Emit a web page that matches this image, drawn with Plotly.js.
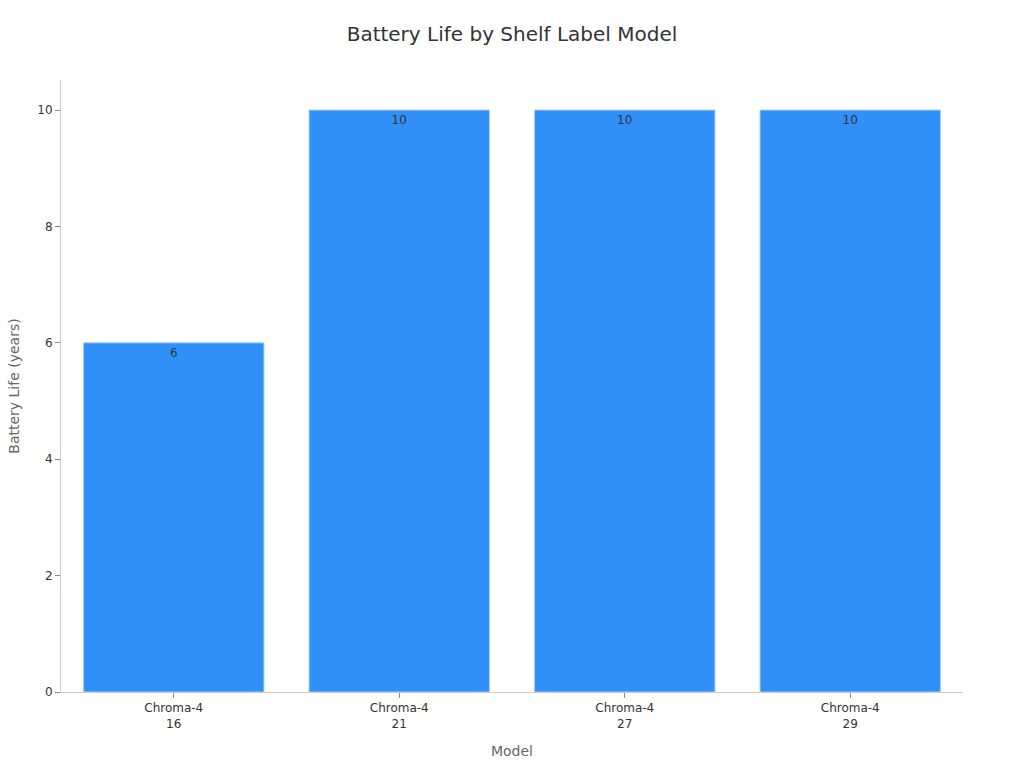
<!DOCTYPE html>
<html>
<head>
<meta charset="utf-8">
<script src="https://cdn.plot.ly/plotly-3.0.1.min.js"></script>
<style>html,body{margin:0;padding:0;background:#fff;}#chart{width:1024px;height:768px;}</style>
</head>
<body>
<div id="chart"></div>
<script>
const categories = ["Chroma-4<br>16", "Chroma-4<br>21", "Chroma-4<br>27", "Chroma-4<br>29"];
const batteryLife = [6, 10, 10, 10];
const valueLabels = ["6", "10", "10", "10"];

const trace = {
  type: "bar",
  x: categories,
  y: batteryLife,
  text: valueLabels,
  textposition: "inside",
  insidetextanchor: "end",
  textfont: {family: "DejaVu Sans", size: 12, color: "#333333"},
  marker: {color: "#3090f8", line: {color: "#a8cdf5", width: 1}},
  hoverinfo: "x+y"
};

const layout = {
  width: 1024,
  height: 768,
  margin: {l: 61, r: 61, t: 80, b: 76},
  paper_bgcolor: "#ffffff",
  plot_bgcolor: "#ffffff",
  font: {family: "DejaVu Sans", color: "#333333"},
  title: {text: "Battery Life by Shelf Label Model", font: {family: "DejaVu Sans", size: 20, color: "#333333"}, x: 0.5, xanchor: "center", y: 0.965},
  bargap: 0.2,
  showlegend: false,
  xaxis: {
    title: {text: "Model", font: {size: 14, color: "#666666"}, standoff: 16},
    showline: true, linecolor: "#cccccc", linewidth: 1,
    ticks: "outside", ticklen: 5, tickcolor: "#888888",
    tickfont: {size: 12, color: "#333333"},
    showgrid: false, zeroline: false
  },
  yaxis: {
    title: {text: "Battery Life (years)", font: {size: 14, color: "#666666"}, standoff: 14},
    range: [0, 10.516],
    tickvals: [0, 2, 4, 6, 8, 10],
    showline: true, linecolor: "#cccccc", linewidth: 1,
    ticks: "outside", ticklen: 5, tickcolor: "#888888",
    tickfont: {size: 12, color: "#333333"},
    showgrid: false, zeroline: false
  }
};

Plotly.newPlot("chart", [trace], layout, {displayModeBar: false});
</script>
</body>
</html>
